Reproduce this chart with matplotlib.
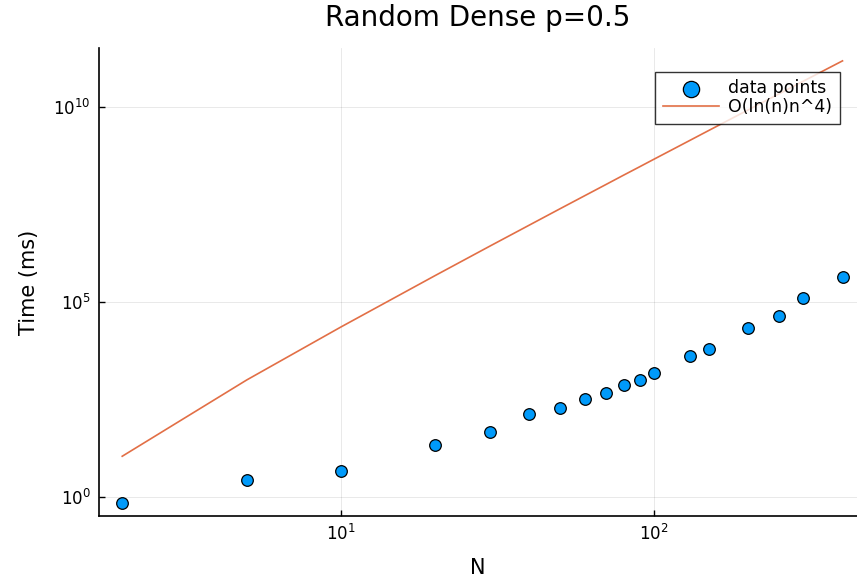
import numpy as np
import matplotlib.pyplot as plt

# problem sizes
n_vals = [2, 5, 10, 20, 30, 40, 50, 60, 70, 80, 90, 100, 130, 150, 200, 250, 300, 400]
time_ms = [0.7, 2.7, 4.6, 21.5, 46, 134, 191, 325, 464, 745, 1000, 1510,
           4120, 6240, 21500, 43700, 126000, 437000]
# reference curve ln(n)*n^4 at the same sizes
ref_vals = [11.1, 1006, 2.30e4, 4.79e5, 2.76e6, 9.44e6, 2.45e7, 5.31e7, 1.02e8,
            1.80e8, 2.95e8, 4.61e8, 1.39e9, 2.54e9, 8.48e9, 2.16e10, 4.62e10, 1.53e11]

xticks = [10, 100]
yticks = [1, 1e5, 1e10]

fig = plt.figure(figsize=(8.57, 5.81), dpi=100)
ax = fig.add_axes([99/857, 65/581, (857-99)/857, (516-48)/581])

ax.plot(n_vals, ref_vals, color='#E26F46', lw=1.2, label='O(ln(n)n^4)', zorder=2)
ax.scatter(n_vals, time_ms, s=70, color='#009AFA', edgecolor='black', linewidth=0.9,
           label='data points', zorder=3)

ax.set_xscale('log')
ax.set_yscale('log')
ax.set_xlim(1.686, 445)
ax.set_ylim(0.326, 3.27e11)
ax.set_xticks(xticks)
ax.set_yticks(yticks)
ax.minorticks_off()
ax.tick_params(direction='in', length=4, width=1, labelsize=12, pad=6)
ax.grid(True, color='black', alpha=0.1, linewidth=0.6)

for s in ['top', 'right']:
    ax.spines[s].set_visible(False)
for s in ['left', 'bottom']:
    ax.spines[s].set_linewidth(1.2)

ax.set_title('Random Dense p=0.5', fontsize=20, pad=16)
ax.set_xlabel('N', fontsize=15, labelpad=10)
ax.set_ylabel('Time (ms)', fontsize=15, labelpad=10)

handles, labels = ax.get_legend_handles_labels()
leg = ax.legend(handles[::-1], labels[::-1], loc='upper right', bbox_to_anchor=(0.989, 0.968),
                fontsize=12.5, frameon=True, fancybox=False, edgecolor='black',
                handlelength=3.2, handletextpad=0.55, borderpad=0.45, labelspacing=0.05,
                markerscale=1.4)
leg.get_frame().set_linewidth(1)

plt.savefig('out.png', dpi=100)
